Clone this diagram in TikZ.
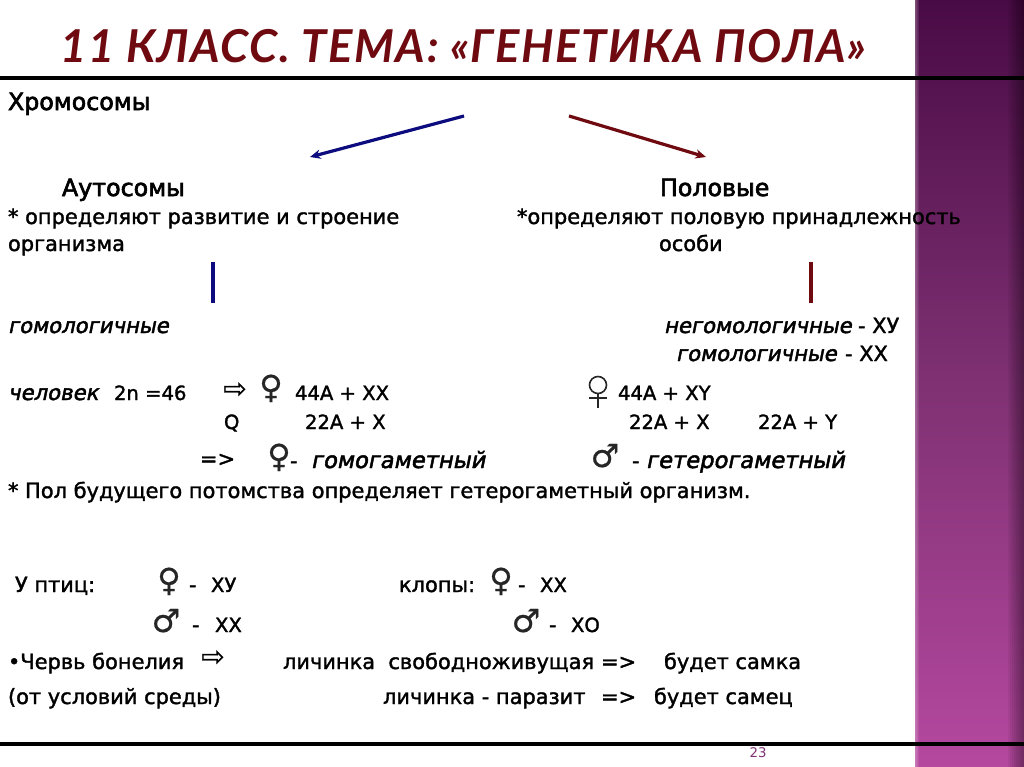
\documentclass[tikz,border=0pt]{standalone}
\usepackage{fontspec}
\setmainfont[FakeBold=1.6]{DejaVu Sans}
\newfontfamily\itf[FakeBold=2.1,FakeSlant=0.2]{DejaVu Sans}
\newfontfamily\ttl[LetterSpace=3.6]{Lato}
\newfontfamily\hdf[FakeBold=2.6]{DejaVu Sans}
\newfontfamily\symf{DejaVu Sans}
\newfontfamily\symb[FakeBold=0.5]{DejaVu Sans}
\definecolor{titlered}{HTML}{6E0A10}
\definecolor{barblue}{HTML}{0C0C7E}
\definecolor{barred}{HTML}{6E0A10}
\definecolor{sidetop}{HTML}{490B45}
\definecolor{sidemid}{HTML}{7F3173}
\definecolor{sidebot}{HTML}{B5489F}
\usetikzlibrary{arrows.meta}
\tikzset{
  x=0.75pt,y=-0.75pt,
  txt/.style={anchor=base west,inner sep=0pt,outer sep=0pt,font=\fontsize{15.7}{18}\selectfont,text=black},
  num/.style={txt,font=\fontsize{14.7}{18}\selectfont},
  head/.style={txt,font=\fontsize{17.8}{20}\selectfont\hdf},
  ital/.style={txt,font=\fontsize{15.9}{18}\selectfont\itf},
  itbig/.style={txt,font=\fontsize{17}{20}\selectfont\itf},
  sym/.style={anchor=base,inner sep=0pt,outer sep=0pt,font=\fontsize{24}{28}\selectfont\symb,text=black!85},
  arrowsym/.style={anchor=base,inner sep=0pt,outer sep=0pt,font=\fontsize{21}{24}\selectfont\symb,text=black},
  bluearrow/.style={draw=barblue,line width=2.4pt,-{Stealth[length=8pt,width=7pt]}},
  redarrow/.style={draw=barred,line width=2.4pt,-{Stealth[length=8pt,width=7pt]}},
  rule/.style={draw=black,line width=2.4pt},
  thinsym/.style={draw=black!85,line width=1.2pt},
}
\begin{document}
\begin{tikzpicture}
\useasboundingbox (0,0) rectangle (1024,767);
\fill[white] (0,0) rectangle (1024,767);
% sidebar
\shade[top color=sidetop,bottom color=sidebot,middle color=sidemid,shading angle=0] (915,0) rectangle (1024,767);
\foreach \i in {0,...,7}{\fill[black,opacity=0.05] ({1024-2*\i-2},0) rectangle (1024,767);}
\foreach \i in {0,...,3}{\fill[white,opacity=0.08] (915,0) rectangle ({915+\i+1},767);}
% rules
\coordinate (r1a) at (0,78); \coordinate (r1b) at (1024,78);
\coordinate (r2a) at (0,744); \coordinate (r2b) at (1024,744);
\draw[rule] (r1a) -- (r1b);
\draw[rule] (r2a) -- (r2b);
% title
\node[anchor=base west,inner sep=0pt,font=\fontsize{34}{40}\selectfont\ttl\bfseries\itshape,text=titlered] (title) at (60,63) {11 КЛАСС. ТЕМА: «ГЕНЕТИКА ПОЛА»};
\node[anchor=base,inner sep=0pt,font=\fontsize{10}{12}\selectfont\symf,text=sidemid] (pagenum) at (758,757) {23};
% arrows
\coordinate (ba) at (464,116); \coordinate (bb) at (310,157);
\coordinate (ra) at (569,116); \coordinate (rb) at (706,157);
\draw[bluearrow] (ba) -- (bb);
\draw[redarrow] (ra) -- (rb);
\coordinate (bl1) at (213,262); \coordinate (bl2) at (213,303);
\coordinate (br1) at (811,262); \coordinate (br2) at (811,303);
\draw[draw=barblue,line width=2.6pt] (bl1) -- (bl2);
\draw[draw=barred,line width=2.6pt] (br1) -- (br2);
% text
\node[head] (chrom) at (8,110) {Хромосомы};
\node[head] (auto) at (62,196) {Аутосомы};
\node[head] (polov) at (660,196) {Половые};
\node[txt] (opr1) at (8,224) {* определяют развитие и строение};
\node[txt] (opr2) at (517,224) {*определяют половую принадлежность};
\node[txt] (org) at (8,251) {организма};
\node[txt] (osobi) at (659,251) {особи};
\node[ital] (gom1) at (8,333) {гомологичные};
\node[ital] (neg) at (664,333) {негомологичные};
\node[txt] (negx) at (858,333) {- ХУ};
\node[ital] (gom2) at (676,361) {гомологичные};
\node[txt] (gomx) at (845,361) {- ХХ};
\node[ital] (chel) at (8,400) {человек};
\node[num] (n46) at (114,400) {2n =46};
\node[arrowsym] (ar1) at (235,398) {⇨};
\node[sym] (f1) at (271,398) {♀};
\node[num] (a44) at (295,400) {44А + ХХ};
\node[num] (q) at (224,429) {Q};
\node[num] (a22) at (305,429) {22А + Х};
\coordinate (f2c) at (598,385);
\coordinate (f2t) at (598,393.5);
\coordinate (f2s) at (598,408);
\coordinate (f2l) at (589,398);
\coordinate (f2r) at (607,398);
\draw[thinsym] (f2c) circle[radius=8.5];
\draw[thinsym] (f2t) -- (f2s);
\draw[thinsym] (f2l) -- (f2r);
\node[num] (a44b) at (618,400) {44А + ХY};
\node[num] (a22b) at (629,429) {22А + Х};
\node[num] (a22c) at (758,429) {22А + Y};
\node[txt] (impl) at (200,466) {=>};
\node[sym] (f3) at (279,467) {♀};
\node[txt] (dash3) at (290,468) {-};
\node[itbig] (homo) at (311,468) {гомогаметный};
\node[sym] (m1) at (605,467) {♂};
\node[txt] (dash4) at (632,468) {-};
\node[itbig] (hete) at (646,468) {гетерогаметный};
\node[txt] (pol) at (8,498) {* Пол будущего потомства определяет гетерогаметный организм.};
\node[txt] (ptic) at (15,592) {У птиц:};
\node[sym] (f4) at (169,591) {♀};
\node[txt] (d5) at (189,592) {-};
\node[num] (xy) at (211,592) {ХУ};
\node[txt] (klop) at (399,592) {клопы:};
\node[sym] (f5) at (501,591) {♀};
\node[txt] (d6) at (518,592) {-};
\node[num] (xx) at (540,592) {ХХ};
\node[sym] (m2) at (166,632) {♂};
\node[txt] (d7) at (192,632) {-};
\node[num] (xx2) at (215,632) {ХХ};
\node[sym] (m3) at (526,632) {♂};
\node[txt] (d8) at (549,632) {-};
\node[num] (xo) at (571,632) {ХО};
\node[txt] (cherv) at (8,669) {•Червь бонелия};
\node[arrowsym] (ar2) at (213,666) {⇨};
\node[txt] (lich1) at (283,669) {личинка\ \ свободноживущая};
\node[txt] (impl2) at (601,669) {=>};
\node[txt] (bud1) at (664,669) {будет самка};
\node[txt] (usl) at (8,704) {(от условий среды)};
\node[txt] (lich2) at (383,704) {личинка - паразит};
\node[txt] (impl3) at (601,704) {=>};
\node[txt] (bud2) at (654,704) {будет самец};
\end{tikzpicture}
\end{document}
